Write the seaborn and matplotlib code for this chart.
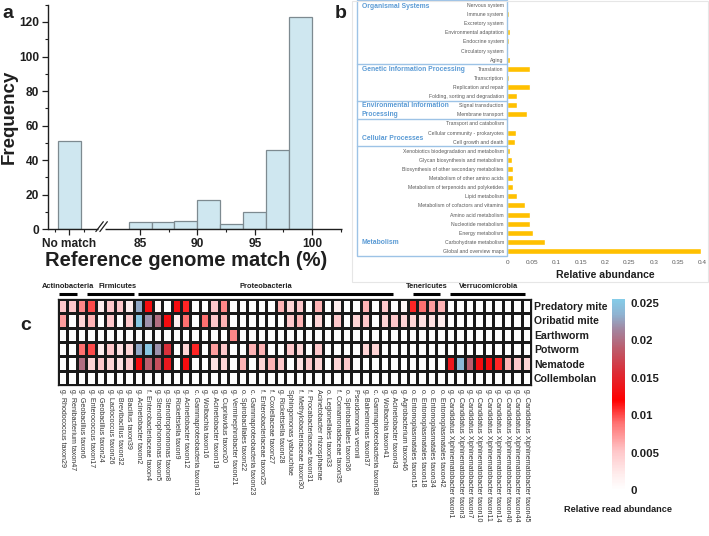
import numpy as np
import pandas as pd
import matplotlib
matplotlib.use("Agg")
import matplotlib.pyplot as plt
import seaborn as sns
from matplotlib.colors import LinearSegmentedColormap
from matplotlib.patches import Rectangle
from matplotlib.transforms import blended_transform_factory

sns.set_theme(style="white")
plt.rcParams["font.family"] = ["Liberation Sans", "DejaVu Sans"]

# ---------------- panel a data ----------------
hist_edges = [84, 86, 88, 90, 92, 94, 96, 98, 100]
hist_counts = [4, 4, 5, 17, 3, 10, 46, 123]
nomatch_label = "No match"
nomatch_count = 51
a_xticks = [85, 90, 95, 100]
a_yticks = [0, 20, 40, 60, 80, 100, 120]

# ---------------- panel b data ----------------
kegg_groups = ["Organismal Systems", "Genetic Information Processing",
               "Environmental Information\nProcessing", "Cellular Processes", "Metabolism"]
kegg_group_sizes = [7, 4, 2, 3, 12]
kegg_pathways = [
    "Nervous system", "Immune system", "Excretory system", "Environmental adaptation",
    "Endocrine system", "Circulatory system", "Aging",
    "Translation", "Transcription", "Replication and repair", "Folding, sorting and degradation",
    "Signal transduction", "Membrane transport",
    "Transport and catabolism", "Cellular community - prokaryotes", "Cell growth and death",
    "Xenobiotics biodegradation and metabolism", "Glycan biosynthesis and metabolism",
    "Biosynthesis of other secondary metabolites", "Metabolism of other amino acids",
    "Metabolism of terpenoids and polyketides", "Lipid metabolism",
    "Metabolism of cofactors and vitamins", "Amino acid metabolism", "Nucleotide metabolism",
    "Energy metabolism", "Carbohydrate metabolism", "Global and overview maps",
]
kegg_abundance = [
    0.002, 0.003, 0.001, 0.005, 0.003, 0.001, 0.005,
    0.046, 0.003, 0.046, 0.019,
    0.019, 0.041,
    0.001, 0.017, 0.016,
    0.005, 0.009, 0.012, 0.012, 0.012, 0.020, 0.036, 0.046, 0.047, 0.053, 0.078, 0.396,
]
b_xticks = [0, 0.05, 0.1, 0.15, 0.2, 0.25, 0.3, 0.35, 0.4]
b_xticklabels = ["0", "0.05", "0.1", "0.15", "0.2", "0.25", "0.3", "0.35", "0.4"]

# ---------------- panel c data ----------------
phyla = ["Actinobacteria", "Firmicutes", "Proteobacteria", "Tenericutes", "Verrucomicrobia"]
phylum_sizes = [2, 6, 29, 4, 9]
taxa = [
    "g. Rhodococcus taxon29", "g. Renibacterium taxon47",
    "g. Geobacillus taxon6", "g. Enterococcus taxon17", "g. Geobacillus taxon24",
    "g. Lactococcus taxon26", "g. Brevibacillus taxon32", "g. Bacillus taxon39",
    "g. Acinetobacter taxon2", "f. Enterobacteriaceae taxon4", "g. Stenotrophomonas taxon5",
    "g. Stenotrophomonas taxon8", "g. Rickettsiella taxon9", "g. Acinetobacter taxon12",
    "c. Gammaproteobacteria taxon13", "g. Wolbachia taxon16", "g. Acinetobacter taxon19",
    "g. Cupriavidus taxon20", "g. Verminephrobacter taxon21", "o. Spirobacillales taxon22",
    "c. Gammaproteobacteria taxon23", "f. Enterobacteriaceae taxon25", "f. Coxiellaceae taxon27",
    "g. Rickettsiella taxon28", "Sphingomonas yabuuchiae", "f. Methylobacteriaceae taxon30",
    "f. Procabacteriaceae taxon31", "Acinetobacter rhizosphaerae", "o. Legionellales taxon33",
    "f. Comamonadaceae taxon35", "o. Spirobacillales taxon36", "Pseudomonas veronii",
    "g. Balneimonas taxon37", "c. Gammaproteobacteria taxon38", "g. Wolbachia taxon41",
    "g. Acinetobacter taxon43", "g. Agrobacterium taxon46",
    "o. Entomoplasmatales taxon15", "o. Entomoplasmatales taxon18",
    "o. Entomoplasmatales taxon34", "o. Entomoplasmatales taxon42",
    "g. Candidatus Xiphinematobacter taxon1", "g. Candidatus Xiphinematobacter taxon3",
    "g. Candidatus Xiphinematobacter taxon7", "g. Candidatus Xiphinematobacter taxon10",
    "g. Candidatus Xiphinematobacter taxon11", "g. Candidatus Xiphinematobacter taxon14",
    "g. Candidatus Xiphinematobacter taxon40", "g. Candidatus Xiphinematobacter taxon44",
    "g. Candidatus Xiphinematobacter taxon45",
]
hosts = ["Predatory mite", "Oribatid mite", "Earthworm", "Potworm", "Nematode", "Collembolan"]
# relative read abundance, in units of 0.001
predatory_mite = [5, 5, 8, 10, 2, 5, 5, 2, 23, 13, 1, 0, 13,
                  11, 0, 0, 5, 8, 0, 0, 0, 0, 0, 6, 4, 5,
                  0, 6, 0, 2, 0, 0, 6, 0, 5, 0, 1, 11,
                  9, 7, 6, 0, 0, 0, 0, 0, 0, 0, 0, 0]
oribatid_mite = [7, 0, 4, 6, 0, 5, 0, 5, 25, 22, 20, 13, 2,
                 9, 0, 9, 5, 6, 0, 0, 0, 0, 0, 0, 5, 6,
                 0, 4, 0, 5, 0, 4, 5, 0, 4, 5, 4, 4,
                 3, 3, 2, 0, 0, 0, 0, 0, 0, 0, 0, 0]
earthworm = [0, 0, 0, 0, 0, 0, 0, 0, 0, 0, 0, 0, 0,
             0, 0, 0, 0, 0, 8, 0, 0, 0, 0, 0, 0, 0,
             0, 0, 0, 0, 0, 0, 0, 0, 0, 0, 0, 0,
             0, 0, 0, 0, 0, 0, 0, 0, 0, 0, 0, 0]
potworm = [0, 0, 9, 10, 2, 5, 3, 4, 23, 25, 22, 16, 0,
           4, 11, 0, 7, 5, 0, 0, 6, 6, 0, 0, 5, 4,
           0, 5, 0, 0, 0, 0, 4, 4, 0, 0, 0, 0,
           0, 0, 0, 0, 0, 0, 0, 0, 0, 0, 0, 0]
nematode = [0, 0, 20, 4, 5, 4, 3, 5, 13, 19, 18, 14, 0,
            13, 0, 0, 3, 4, 0, 6, 0, 4, 6, 5, 0, 3,
            5, 4, 0, 4, 5, 0, 0, 0, 0, 0, 0, 0,
            0, 0, 0, 14, 24, 19, 13, 13, 11, 6, 5, 4]
collembolan = [0] * 50
cbar_ticks = [0, 0.005, 0.01, 0.015, 0.02, 0.025]
cbar_ticklabels = ["0", "0.005", "0.01", "0.015", "0.02", "0.025"]

# ---------------- layout helpers ----------------
W, H = 709, 536


def rect(x0, y0, x1, y1):
    return [x0 / W, 1 - y1 / H, (x1 - x0) / W, (y1 - y0) / H]


fig = plt.figure(figsize=(W / 100, H / 100), dpi=100)
DARK = "#1f1f1f"

# ================= panel a =================
BAR_A = "#CFE7F0"
EDGE_A = "#7d8a90"
NOMATCH_X = 78.85
XL0, XL1 = 76.98, 102.6
axa = fig.add_axes(rect(48, 4.7, 342, 229.3))
centers = [(lo + hi) / 2 for lo, hi in zip(hist_edges[:-1], hist_edges[1:])]
sns.histplot(x=centers, weights=hist_counts, bins=hist_edges, ax=axa,
             color=BAR_A, edgecolor=EDGE_A, linewidth=0.9, alpha=1)
axa.bar([NOMATCH_X], [nomatch_count], width=2, color=BAR_A, edgecolor=EDGE_A, linewidth=0.9)
axa.set_xlim(XL0, XL1)
axa.set_ylim(0, 130)
axa.set_xlabel("")
axa.set_ylabel("")
for s in ["top", "right", "bottom"]:
    axa.spines[s].set_visible(False)
axa.spines["left"].set_color(DARK)
axa.spines["left"].set_linewidth(1.0)
# broken x axis
axa.plot([XL0, 81.35], [0, 0], color=DARK, lw=1.0, clip_on=False, solid_capstyle="butt")
axa.plot([81.95, XL1], [0, 0], color=DARK, lw=1.0, clip_on=False, solid_capstyle="butt")
axa.plot([81.15, 81.8], [-1.3, 4.4], color=DARK, lw=0.9, clip_on=False)
axa.plot([81.5, 82.15], [-1.3, 4.4], color=DARK, lw=0.9, clip_on=False)
axa.set_xticks([NOMATCH_X] + a_xticks, labels=[nomatch_label] + [str(t) for t in a_xticks])
axa.set_xticks([77.6, 80.1, 87.5, 92.5, 97.5, 102.5], minor=True)
axa.set_yticks(a_yticks, labels=[str(t) for t in a_yticks])
axa.set_yticks([10, 30, 50, 70, 90, 110, 130], minor=True)
axa.tick_params(axis="both", which="major", direction="out", length=4, width=0.9,
                color=DARK, labelsize=8.6, labelcolor=DARK, pad=2.5,
                bottom=True, left=True)
axa.tick_params(axis="both", which="minor", direction="out", length=2.5, width=0.8,
                color=DARK, bottom=True, left=True)
for lab in axa.get_xticklabels() + axa.get_yticklabels():
    lab.set_fontweight("bold")
fig.text(9 / W, 1 - 117 / H, "Frequency", rotation=90, ha="center", va="center",
         fontsize=13.5, fontweight="bold", color=DARK)
fig.text(186 / W, 1 - 261 / H, "Reference genome match (%)", ha="center", va="center",
         fontsize=14.5, fontweight="bold", color=DARK)
fig.text(8 / W, 1 - 13 / H, "a", ha="center", va="center", fontsize=14, fontweight="bold", color=DARK)

# ================= panel b =================
BOXC = "#9DC3E6"
GRPC = "#5B9BD5"
fig.add_artist(Rectangle((352 / W, 1 - 282 / H), (708 - 352) / W, 281 / H,
                         transform=fig.transFigure, fill=False, ec="#E6E6E6", lw=0.8))
axb = fig.add_axes(rect(507.3, 0.44, 702.7, 255.6))
sns.barplot(x=kegg_abundance, y=kegg_pathways, orient="h", color="#FFC000",
            saturation=1, width=0.66, ax=axb)
axb.set_xlim(0, 0.4)
axb.set_ylim(27.5, -0.5)
for s in axb.spines.values():
    s.set_visible(False)
axb.set_xticks(b_xticks, labels=b_xticklabels)
axb.tick_params(axis="x", length=0, pad=3.5, labelsize=4.6, labelcolor="#595959")
axb.tick_params(axis="y", length=0, pad=2.5, labelsize=3.7, labelcolor="#595959")
axb.set_xlabel("Relative abundance", fontsize=7.6, fontweight="bold", color=DARK, labelpad=3)
axb.set_ylabel("")
trb = blended_transform_factory(axb.transAxes, axb.transData)
xl = (357 - 507.3) / 195.4
axb.add_patch(Rectangle((xl, -0.5), -xl, 28, transform=trb, fill=False, ec=BOXC, lw=1.0,
                        clip_on=False))
start = 0
group_label_rows = [0.2, 7.1, 11.5, 14.6, 26.1]
for name, size, ry in zip(kegg_groups, kegg_group_sizes, group_label_rows):
    if start > 0:
        axb.plot([xl, 0], [start - 0.5, start - 0.5], transform=trb, color=BOXC, lw=1.0,
                 clip_on=False)
    axb.text((362 - 507.3) / 195.4, ry, name, transform=trb, ha="left", va="center",
             fontsize=4.9, color=GRPC, fontweight="bold", linespacing=1.35)
    start += size
fig.text(341 / W, 1 - 13 / H, "b", ha="center", va="center", fontsize=14, fontweight="bold", color=DARK)

# ================= panel c =================
cmap = LinearSegmentedColormap.from_list("wrb", [
    (0.0, (1.0, 1.0, 1.0)),
    (0.08, (1.0, 0.93, 0.93)),
    (0.2, (1.0, 0.78, 0.79)),
    (0.35, (1.0, 0.45, 0.45)),
    (0.47, (1.0, 0.0, 0.0)),
    (0.62, (0.86, 0.18, 0.22)),
    (0.74, (0.74, 0.36, 0.42)),
    (0.84, (0.64, 0.52, 0.62)),
    (0.92, (0.56, 0.70, 0.82)),
    (1.0, (0.52, 0.80, 0.91)),
])
mat = pd.DataFrame(np.array([predatory_mite, oribatid_mite, earthworm, potworm,
                             nematode, collembolan], dtype=float) / 1000.0,
                   index=hosts, columns=taxa)
axc = fig.add_axes(rect(58, 299, 531, 385))
cax = fig.add_axes(rect(612, 299, 625, 490))
sns.heatmap(mat, ax=axc, cbar_ax=cax, cmap=cmap, vmin=0, vmax=0.0255,
            linewidths=0.75, linecolor="#1a1a1a", xticklabels=True, yticklabels=True)
for sp in axc.spines.values():
    sp.set_visible(True)
    sp.set_color("#1a1a1a")
    sp.set_linewidth(0.9)
axc.yaxis.tick_right()
axc.set_yticks(np.arange(len(hosts)) + 0.5, labels=hosts, rotation=0)
axc.tick_params(axis="y", length=0, pad=2, labelsize=7.6, labelcolor=DARK, right=False, left=False)
for lab in axc.get_yticklabels():
    lab.set_fontweight("bold")
axc.set_xticks(np.arange(len(taxa)) + 0.5, labels=taxa, rotation=270)
axc.tick_params(axis="x", length=0, pad=3, labelsize=5.1, labelcolor="#333333")
axc.set_xlabel("")
axc.set_ylabel("")

cb = axc.collections[0].colorbar
cb.outline.set_visible(False)
cb.set_ticks(cbar_ticks, labels=cbar_ticklabels)
cax.tick_params(length=0, pad=4, labelsize=8.2, labelcolor=DARK)
for lab in cax.get_yticklabels():
    lab.set_fontweight("bold")
fig.text(618 / W, 1 - 509 / H, "Relative read abundance", ha="center", va="center",
         fontsize=6.6, fontweight="bold", color=DARK)

# phylum bars and labels
trc = blended_transform_factory(axc.transData, axc.transAxes)
bar_insets = [(0.1, 0.0), (1.07, 0.0), (0.45, 1.6), (0.5, 0.6), (0.4, 0.6)]
label_x = [1.06, 6.3, 22.0, 39.0, 45.5]
pos = 0
for name, size, (li, ri), lx in zip(phyla, phylum_sizes, bar_insets, label_x):
    axc.plot([pos + li, pos + size - ri], [1.058, 1.058], transform=trc, color="black",
             lw=2.2, clip_on=False, solid_capstyle="butt")
    axc.text(lx, 1.151, name, transform=trc, ha="center", va="center", fontsize=5.4,
             fontweight="bold", color=DARK)
    pos += size
fig.text(26 / W, 1 - 325 / H, "c", ha="center", va="center", fontsize=14, fontweight="bold", color=DARK)

fig.savefig("out.png", dpi=100)
